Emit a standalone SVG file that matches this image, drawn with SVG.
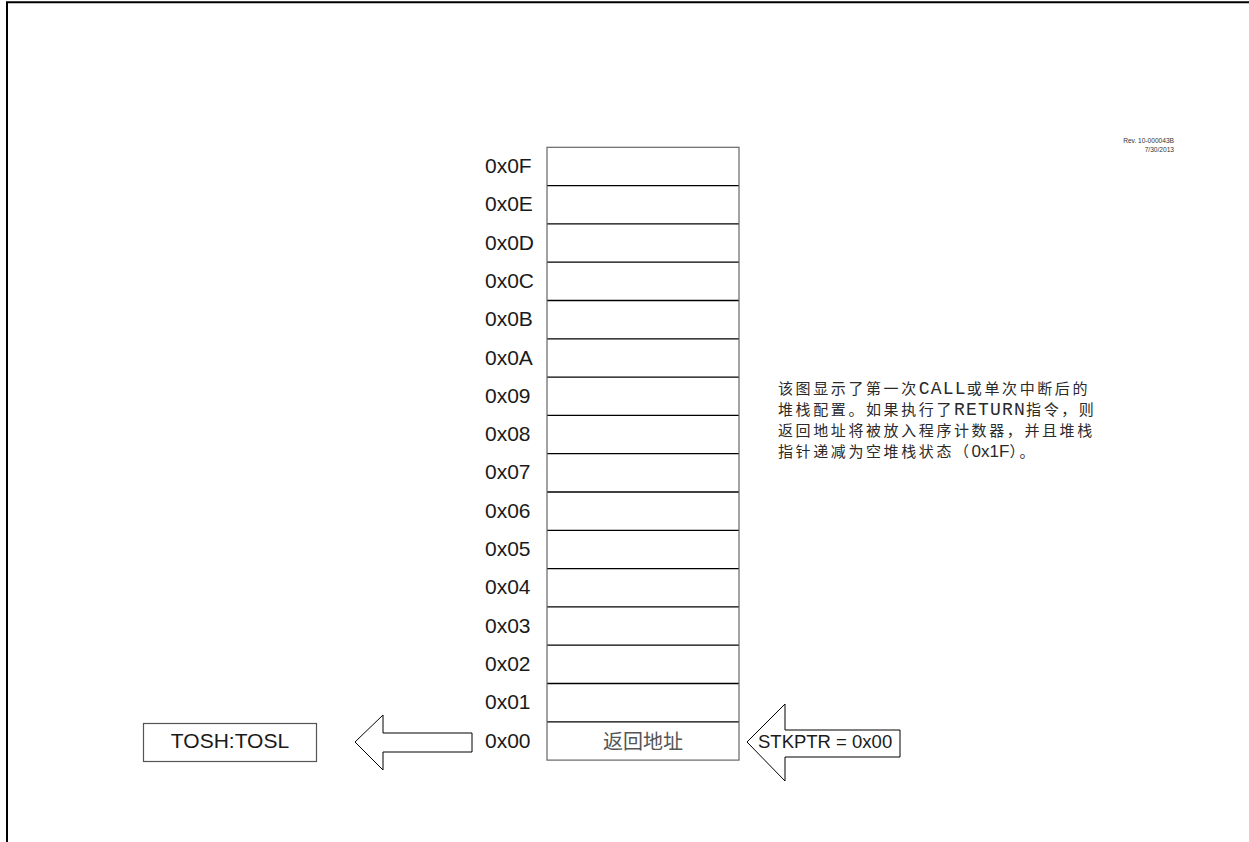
<svg xmlns="http://www.w3.org/2000/svg" width="1249" height="842" viewBox="0 0 1249 842">
<style>
.lbl{font-family:"Liberation Sans",Arial,sans-serif;font-size:21px;fill:#1a1a1a}
.cell{fill:#fff;stroke:none}
.sep{stroke:#000;stroke-width:1.3}
.outer{fill:none;stroke:#666;stroke-width:1.2}
.arrow{fill:#fff;stroke:#000;stroke-width:1}
.desc{font-family:"Noto Sans CJK SC",sans-serif;font-size:15px;letter-spacing:2.6px;fill:#2a2a2a}
.mono{font-family:"Liberation Mono","DejaVu Sans Mono",monospace;font-size:18px;letter-spacing:1.2px}
.sans{font-family:"Liberation Sans",sans-serif;font-size:17px;letter-spacing:0}
.rev{font-family:"Liberation Sans",Arial,sans-serif;font-size:6.6px;fill:#333;text-anchor:end}
</style>
<rect x="0" y="0" width="1249" height="842" fill="#fff"/>
<g id="border"><path d="M7 842 V2.3 H1249" fill="none" stroke="#000" stroke-width="2"/></g>
<g id="revision">
<text class="rev" x="1174" y="143">Rev. 10-000043B</text>
<text class="rev" x="1174" y="152">7/30/2013</text>
</g>
<g id="stack">
<rect class="cell" x="547" y="147.3" width="192" height="612.8"/>
<g class="sep">
<line x1="547" y1="185.6" x2="739" y2="185.6"/>
<line x1="547" y1="223.9" x2="739" y2="223.9"/>
<line x1="547" y1="262.2" x2="739" y2="262.2"/>
<line x1="547" y1="300.5" x2="739" y2="300.5"/>
<line x1="547" y1="338.8" x2="739" y2="338.8"/>
<line x1="547" y1="377.1" x2="739" y2="377.1"/>
<line x1="547" y1="415.4" x2="739" y2="415.4"/>
<line x1="547" y1="453.7" x2="739" y2="453.7"/>
<line x1="547" y1="492.0" x2="739" y2="492.0"/>
<line x1="547" y1="530.3" x2="739" y2="530.3"/>
<line x1="547" y1="568.6" x2="739" y2="568.6"/>
<line x1="547" y1="606.9" x2="739" y2="606.9"/>
<line x1="547" y1="645.2" x2="739" y2="645.2"/>
<line x1="547" y1="683.5" x2="739" y2="683.5"/>
<line x1="547" y1="721.8" x2="739" y2="721.8"/>
</g>
<rect class="outer" x="547" y="147.3" width="192" height="612.8"/>
<text x="643" y="749" text-anchor="middle" font-family="Noto Sans CJK SC, sans-serif" font-size="20px" fill="#555">返回地址</text>
</g>
<g id="addresses" class="lbl">
<text x="485" y="173">0x0F</text>
<text x="485" y="211.3">0x0E</text>
<text x="485" y="249.6">0x0D</text>
<text x="485" y="287.9">0x0C</text>
<text x="485" y="326.2">0x0B</text>
<text x="485" y="364.5">0x0A</text>
<text x="485" y="402.8">0x09</text>
<text x="485" y="441.1">0x08</text>
<text x="485" y="479.4">0x07</text>
<text x="485" y="517.7">0x06</text>
<text x="485" y="556.0">0x05</text>
<text x="485" y="594.3">0x04</text>
<text x="485" y="632.6">0x03</text>
<text x="485" y="670.9">0x02</text>
<text x="485" y="709.2">0x01</text>
<text x="485" y="747.5">0x00</text>
</g>
<g id="tos">
<rect x="143.5" y="723.5" width="173" height="38" fill="#fff" stroke="#555" stroke-width="1.2"/>
<text class="lbl" x="230" y="748" text-anchor="middle">TOSH:TOSL</text>
</g>
<g id="connectors">
<polygon class="arrow" points="355,742 383,715 383,733 472,733 472,752 383,752 383,770"/>
<polygon class="arrow" points="747,742 785,704 785,730 900,730 900,757 785,757 785,781"/>
</g>
<g id="stkptr">
<text class="lbl" x="758" y="748" style="font-size:18.5px">STKPTR = 0x00</text>
</g>
<g id="description" class="desc">
<text x="778" y="394">该图显示了第一次<tspan class="mono">CALL</tspan>或单次中断后的</text>
<text x="778" y="415">堆栈配置。如果执行了<tspan class="mono">RETURN</tspan>指令，则</text>
<text x="778" y="436">返回地址将被放入程序计数器，并且堆栈</text>
<text x="778" y="457">指针递减为空堆栈状态（<tspan class="sans">0x1F</tspan>）。</text>
</g>
</svg>
